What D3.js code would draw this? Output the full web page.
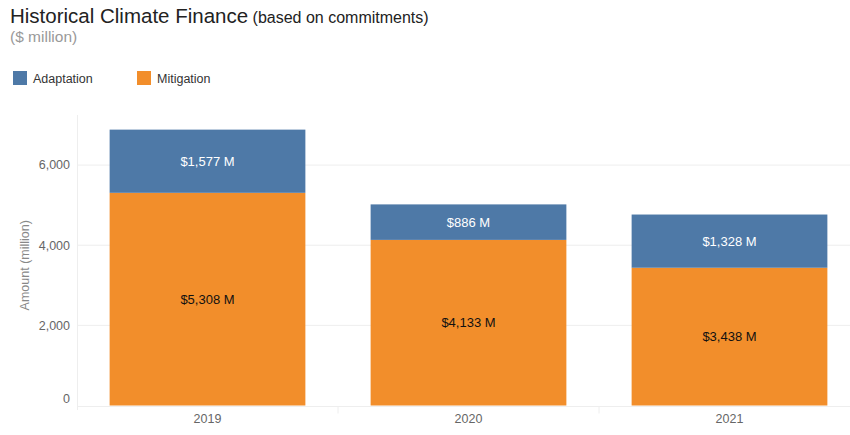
<!DOCTYPE html>
<html><head><meta charset="utf-8">
<script src="https://cdn.jsdelivr.net/npm/d3@7"></script>
<style>body{margin:0;background:#fff;font-family:"Liberation Sans",Arial,sans-serif;}</style>
</head><body>
<svg id="c" width="850" height="435"></svg>
<script>
const years = ["2019", "2020", "2021"];
const mitigation = [5308, 4133, 3438];
const adaptation = [1577, 886, 1328];
const yTicks = [0, 2000, 4000, 6000];
const seriesNames = ["Adaptation", "Mitigation"];
const colors = {Adaptation: "#4e79a7", Mitigation: "#f28e2b"};

(function () {
const svg = d3.select("#c");
const pLeft = 77, pRight = 860, pTop = 115, pBottom = 405.5;
const x = d3.scaleBand().domain(years).range([pLeft, pRight]).paddingInner(0.25).paddingOuter(0.125);
const y = d3.scaleLinear().domain([0, 7250]).range([pBottom, pTop]);

// title
const t = svg.append("text").attr("x", 10).attr("y", 23).attr("fill", "#222");
t.append("tspan").attr("font-size", 20.5).text("Historical Climate Finance");
t.append("tspan").attr("font-size", 16).text(" (based on commitments)");
svg.append("text").attr("x", 10).attr("y", 42).attr("fill", "#999").attr("font-size", 15.5).text("($ million)");

// legend
const lg = svg.append("g");
seriesNames.forEach((n, i) => {
  const gx = 13 + i * 124;
  lg.append("rect").attr("x", gx).attr("y", 71).attr("width", 14).attr("height", 14).attr("fill", colors[n]);
  lg.append("text").attr("x", gx + 20).attr("y", 83).attr("font-size", 12.5).attr("fill", "#333").text(n);
});

// gridlines
svg.append("g").selectAll("line").data(yTicks.filter(d => d > 0)).join("line")
  .attr("x1", pLeft).attr("x2", 850).attr("y1", d => y(d)).attr("y2", d => y(d))
  .attr("stroke", "#eeeeee").attr("stroke-width", 1);

// y axis line
svg.append("line").attr("x1", pLeft + 0.5).attr("x2", pLeft + 0.5).attr("y1", pTop).attr("y2", 410).attr("stroke", "#eeeeee");
// y tick labels
svg.append("g").selectAll("text").data(yTicks).join("text")
  .attr("x", 70).attr("y", d => d === 0 ? y(d) - 7 : y(d)).attr("dy", "0.35em")
  .attr("text-anchor", "end").attr("font-size", 12.5).attr("fill", "#666")
  .text(d => d3.format(",")(d));
svg.append("text").attr("transform", `translate(29,${(pTop + pBottom) / 2 + 5}) rotate(-90)`)
  .attr("text-anchor", "middle").attr("font-size", 12.5).attr("fill", "#888").text("Amount (million)");

// bars
const data = years.map((yr, i) => ({yr, m: mitigation[i], a: adaptation[i]}));
const g = svg.append("g");
g.selectAll("rect.m").data(data).join("rect").attr("class", "m")
  .attr("x", d => x(d.yr)).attr("width", x.bandwidth())
  .attr("y", d => y(d.m)).attr("height", d => y(0) - y(d.m)).attr("fill", colors.Mitigation);
g.selectAll("rect.a").data(data).join("rect").attr("class", "a")
  .attr("x", d => x(d.yr)).attr("width", x.bandwidth())
  .attr("y", d => y(d.m + d.a)).attr("height", d => y(d.m) - y(d.m + d.a)).attr("fill", colors.Adaptation);

const fmt = v => "$" + d3.format(",")(v) + " M";
g.selectAll("text.m").data(data).join("text").attr("class", "m")
  .attr("x", d => x(d.yr) + x.bandwidth() / 2).attr("y", d => y(d.m / 2)).attr("dy", "0.35em")
  .attr("text-anchor", "middle").attr("font-size", 13).attr("fill", "#111").text(d => fmt(d.m));
g.selectAll("text.a").data(data).join("text").attr("class", "a")
  .attr("x", d => x(d.yr) + x.bandwidth() / 2).attr("y", d => y(d.m + d.a / 2)).attr("dy", "0.35em")
  .attr("text-anchor", "middle").attr("font-size", 13).attr("fill", "#fff").text(d => fmt(d.a));

// x axis baseline
svg.append("line").attr("x1", pLeft).attr("x2", 850).attr("y1", pBottom + 1).attr("y2", pBottom + 1).attr("stroke", "#eeeeee");
const bounds = [x(years[1]) - x.step() * x.paddingInner() / 2, x(years[2]) - x.step() * x.paddingInner() / 2];
svg.append("g").selectAll("line").data(bounds).join("line")
  .attr("x1", d => d).attr("x2", d => d).attr("y1", pBottom + 1).attr("y2", pBottom + 8).attr("stroke", "#eeeeee");
svg.append("g").selectAll("text").data(years).join("text")
  .attr("x", d => x(d) + x.bandwidth() / 2).attr("y", 423)
  .attr("text-anchor", "middle").attr("font-size", 12.5).attr("fill", "#666").text(d => d);
})();
</script>
</body></html>
